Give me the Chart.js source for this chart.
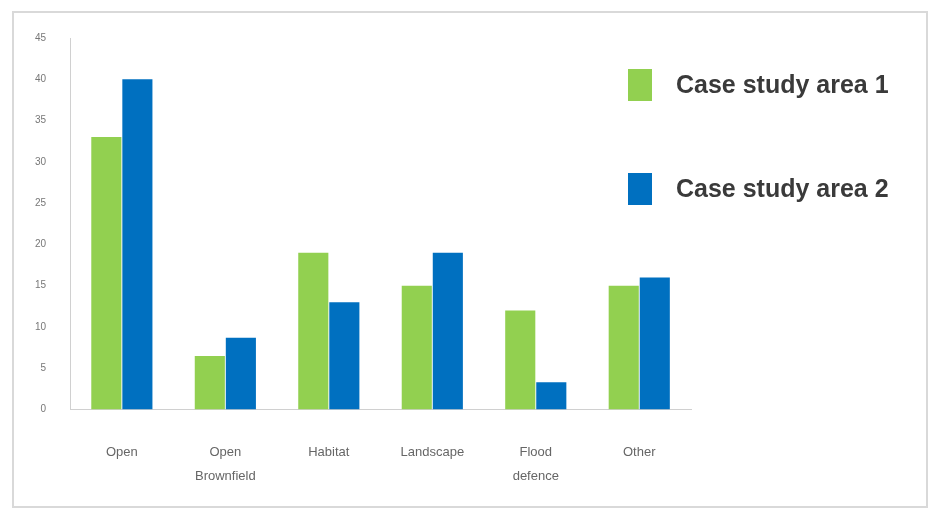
<!DOCTYPE html>
<html>
<head>
<meta charset="utf-8">
<script src="https://cdn.jsdelivr.net/npm/chart.js@4/dist/chart.umd.min.js"></script>
<style>
  html, body { margin: 0; padding: 0; background: #ffffff; }
  #wrap { position: relative; width: 941px; height: 516px; }
  #frame { position: absolute; left: 12px; top: 11px; width: 916px; height: 497px;
           border: 2px solid #d9d9d9; box-sizing: border-box; pointer-events: none; }
  canvas { display: block; }
</style>
</head>
<body>
<div id="wrap">
  <canvas id="chart" width="941" height="516"></canvas>
  <div id="frame"></div>
</div>
<script>
// Categories and values per case study area
const categories = ["Open", ["Open", "Brownfield"], "Habitat", "Landscape", ["Flood", "defence"], "Other"];
const area1Values = [33, 6.5, 19, 15, 12, 15];
const area2Values = [40, 8.7, 13, 19, 3.3, 16];
const seriesNames = ["Case study area 1", "Case study area 2"];
const yTicks = [0, 5, 10, 15, 20, 25, 30, 35, 40, 45];

const GREEN = "#92D050";
const BLUE = "#0070C0";

// Legend drawn over the upper-right of the plot, stacked vertically
const sideLegend = {
  id: "sideLegend",
  afterDraw(chart) {
    const ctx = chart.ctx;
    ctx.save();
    ctx.font = "bold 25px 'Liberation Sans', Arial, sans-serif";
    ctx.textBaseline = "middle";
    ctx.textAlign = "left";
    chart.data.datasets.forEach((ds, i) => {
      const cy = 85 + i * 104;
      ctx.fillStyle = ds.backgroundColor;
      ctx.fillRect(628, cy - 16, 24, 32);
      ctx.fillStyle = "#3a3a3a";
      ctx.fillText(ds.label, 676, cy + 1);
    });
    ctx.restore();
  }
};

new Chart(document.getElementById("chart"), {
  type: "bar",
  data: {
    labels: categories,
    datasets: [
      { label: seriesNames[0], data: area1Values, backgroundColor: GREEN },
      { label: seriesNames[1], data: area2Values, backgroundColor: BLUE }
    ]
  },
  options: {
    responsive: false,
    animation: false,
    layout: { padding: { left: 19, right: 250, top: 38, bottom: 5 } },
    datasets: { bar: { categoryPercentage: 0.6, barPercentage: 0.97 } },
    plugins: {
      legend: { display: false },
      tooltip: { enabled: false }
    },
    scales: {
      x: {
        grid: { display: false },
        border: { display: true, color: "#d0d0d0", width: 1 },
        ticks: {
          color: "#666666",
          font: { family: "'Liberation Sans', Arial, sans-serif", size: 13, lineHeight: 1.9 },
          padding: 22,
          maxRotation: 0,
          autoSkip: false
        }
      },
      y: {
        min: 0,
        max: 45,
        afterBuildTicks(axis) { axis.ticks = yTicks.map(v => ({ value: v })); },
        grid: { display: false },
        border: { display: true, color: "#d0d0d0", width: 1 },
        ticks: {
          color: "#777777",
          font: { family: "'Liberation Sans', Arial, sans-serif", size: 10 },
          padding: 16
        }
      }
    }
  },
  plugins: [sideLegend]
});
</script>
</body>
</html>
